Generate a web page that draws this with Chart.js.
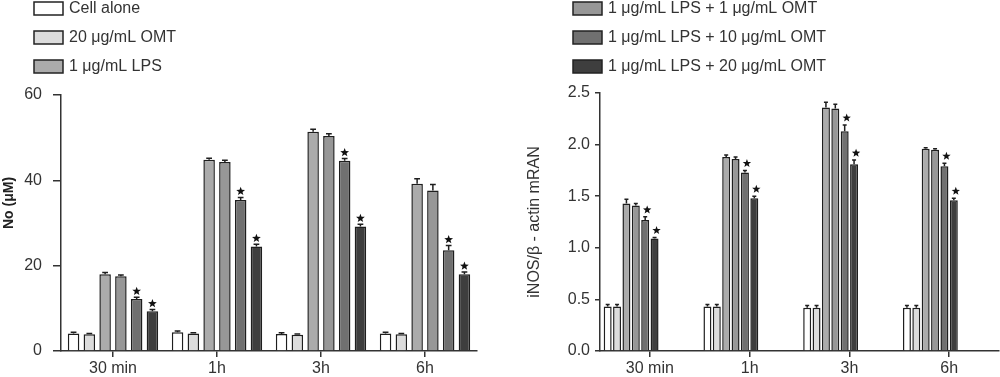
<!DOCTYPE html>
<html lang="en">
  <head>
    <meta charset="utf-8" />
    <title>NO production and iNOS mRNA</title>
    <style>
      * {
        margin: 0;
        padding: 0;
      }
      body {
        width: 1000px;
        height: 377px;
        background: #fff;
        overflow: hidden;
        position: relative;
      }
      .box {
        position: absolute;
        top: 0;
        width: 500px;
        height: 377px;
      }
      #leftBox { left: 0; }
      #rightBox { left: 500px; }
    </style>
  </head>
  <body>
    <div class="box" id="leftBox"><canvas id="noChart"></canvas></div>
    <div class="box" id="rightBox"><canvas id="inosChart"></canvas></div>

    <script src="https://cdn.jsdelivr.net/npm/chart.js"></script>

    <script>
      const timePoints = ["30 min", "1h", "3h", "6h"];
      const groupNames = [
        "Cell alone",
        "20 μg/mL OMT",
        "1 μg/mL LPS",
        "1 μg/mL LPS + 1 μg/mL OMT",
        "1 μg/mL LPS + 10 μg/mL OMT",
        "1 μg/mL LPS + 20 μg/mL OMT",
      ];
      const groupFills = ["#ffffff", "#dcdcdc", "#ababab", "#979797", "#707070", "#3e3e3e"];
      // groups marked with a star at every time point
      const starred = [false, false, false, false, true, true];

      // NO (μM)
      const noCell = [4.1, 4.4, 4.0, 4.1];
      const noOmt = [3.9, 4.1, 3.8, 3.9];
      const noLps = [18.0, 44.8, 51.4, 39.2];
      const noLps1 = [17.5, 44.3, 50.4, 37.6];
      const noLps10 = [12.2, 35.4, 44.6, 23.6];
      const noLps20 = [9.3, 24.5, 29.2, 18.0];
      const noCellErr = [0.3, 0.3, 0.3, 0.3];
      const noOmtErr = [0.2, 0.2, 0.2, 0.2];
      const noLpsErr = [0.4, 0.4, 0.6, 1.2];
      const noLps1Err = [0.3, 0.4, 0.5, 1.4];
      const noLps10Err = [0.4, 0.6, 0.5, 1.1];
      const noLps20Err = [0.4, 0.5, 0.5, 0.5];

      // iNOS / beta-actin mRNA
      const inosCell = [0.43, 0.43, 0.42, 0.42];
      const inosOmt = [0.43, 0.43, 0.42, 0.42];
      const inosLps = [1.43, 1.88, 2.36, 1.96];
      const inosLps1 = [1.41, 1.86, 2.35, 1.95];
      const inosLps10 = [1.27, 1.73, 2.13, 1.79];
      const inosLps20 = [1.09, 1.48, 1.81, 1.46];
      const inosCellErr = [0.02, 0.02, 0.02, 0.02];
      const inosOmtErr = [0.02, 0.02, 0.02, 0.02];
      const inosLpsErr = [0.04, 0.02, 0.05, 0.01];
      const inosLps1Err = [0.02, 0.02, 0.04, 0.01];
      const inosLps10Err = [0.03, 0.02, 0.06, 0.03];
      const inosLps20Err = [0.01, 0.02, 0.04, 0.02];

      Chart.defaults.font.family = "'Liberation Sans', Arial, sans-serif";
      Chart.defaults.color = "#333";

      function drawStar(ctx, cx, cy, r) {
        ctx.beginPath();
        for (let k = 0; k < 10; k++) {
          const rad = k % 2 ? r * 0.42 : r;
          const a = -Math.PI / 2 + (k * Math.PI) / 5;
          ctx.lineTo(cx + rad * Math.cos(a), cy + rad * Math.sin(a));
        }
        ctx.closePath();
        ctx.fillStyle = "#111";
        ctx.fill();
      }

      // error bars (upper half) and significance stars
      const errorStars = {
        id: "errorStars",
        afterDatasetsDraw(chart, args, opts) {
          const { ctx } = chart;
          const yScale = chart.scales.y;
          chart.data.datasets.forEach((ds, i) => {
            if (!ds.err) return;
            chart.getDatasetMeta(i).data.forEach((bar, j) => {
              const top = yScale.getPixelForValue(ds.data[j] + ds.err[j]);
              const cap = bar.width * 0.5;
              ctx.save();
              ctx.strokeStyle = "#1e1e1e";
              ctx.lineWidth = 1.5;
              ctx.beginPath();
              ctx.moveTo(bar.x, bar.y);
              ctx.lineTo(bar.x, top);
              ctx.moveTo(bar.x - cap / 2, top);
              ctx.lineTo(bar.x + cap / 2, top);
              ctx.stroke();
              if (ds.star) drawStar(ctx, bar.x + opts.starDx, top - opts.starGap, opts.starR);
              ctx.restore();
            });
          });
        },
      };

      // one legend entry per row above the plot, plus the y title when it sits off-centre
      const stackedLegend = {
        id: "stackedLegend",
        afterDraw(chart, args, opts) {
          const { ctx } = chart;
          ctx.save();
          ctx.font = "16px 'Liberation Sans', Arial, sans-serif";
          ctx.textBaseline = "middle";
          opts.items.forEach((k, row) => {
            const ds = chart.data.datasets[k];
            const cy = opts.y + row * opts.step;
            ctx.fillStyle = ds.backgroundColor;
            ctx.fillRect(opts.x, cy - 6.5, 29, 13);
            ctx.lineWidth = 1.5;
            ctx.strokeStyle = "#222";
            ctx.strokeRect(opts.x, cy - 6.5, 29, 13);
            ctx.fillStyle = "#333";
            ctx.fillText(ds.label, opts.x + 35, cy);
          });
          if (opts.yTitle) {
            const t = opts.yTitle;
            ctx.translate(t.x, t.y);
            ctx.rotate(-Math.PI / 2);
            ctx.font = t.font;
            ctx.fillStyle = t.color;
            ctx.textAlign = "center";
            ctx.fillText(t.text, 0, 0);
          }
          ctx.restore();
        },
      };

      function makeSets(values, errors) {
        return values.map((v, i) => ({
          label: groupNames[i],
          data: v,
          err: errors[i],
          star: starred[i],
          backgroundColor: groupFills[i],
          borderColor: "#1e1e1e",
          borderWidth: 1.5,
        }));
      }

      function axisX(tickLen) {
        return {
          ticks: { color: "#333", font: { size: 16 }, padding: 2 },
          grid: { offset: false, drawOnChartArea: false, tickLength: tickLen, tickColor: "#333", lineWidth: 1.5 },
          border: { color: "#333", width: 1.5 },
          afterFit(s) {
            s.height = 26;
          },
        };
      }

      const noSets = makeSets(
        [noCell, noOmt, noLps, noLps1, noLps10, noLps20],
        [noCellErr, noOmtErr, noLpsErr, noLps1Err, noLps10Err, noLps20Err]
      );

      new Chart(document.getElementById("noChart"), {
        type: "bar",
        data: { labels: timePoints, datasets: noSets },
        options: {
          responsive: true,
          maintainAspectRatio: false,
          animation: false,
          categoryPercentage: 0.91,
          barPercentage: 0.73,
          layout: { padding: { left: 0, right: 23, top: 95, bottom: 0 } },
          plugins: {
            legend: { display: false },
            tooltip: { enabled: false },
            errorStars: { starDx: 0, starGap: 6, starR: 4.6 },
            stackedLegend: {
              items: [0, 1, 2],
              x: 34,
              y: 8.5,
              step: 29,
              yTitle: { text: "No (μM)", x: 9, y: 203, font: "bold 14px 'Liberation Sans', Arial, sans-serif", color: "#222" },
            },
          },
          scales: {
            x: axisX(6),
            y: {
              min: 0,
              max: 60,
              ticks: { stepSize: 20, color: "#333", font: { size: 16 }, padding: 11 },
              grid: { drawOnChartArea: false, tickLength: 8, tickColor: "#333", lineWidth: 1.5 },
              border: { color: "#333", width: 1.5 },
              afterFit(s) {
                s.width = 61;
              },
            },
          },
        },
        plugins: [errorStars, stackedLegend],
      });

      const inosSets = makeSets(
        [inosCell, inosOmt, inosLps, inosLps1, inosLps10, inosLps20],
        [inosCellErr, inosOmtErr, inosLpsErr, inosLps1Err, inosLps10Err, inosLps20Err]
      );
      // empty slots so the bar groups sit left of the tick marks, as in the figure
      for (let k = 0; k < 4; k++) {
        inosSets.push({ label: "", data: timePoints.map(() => null) });
      }

      new Chart(document.getElementById("inosChart"), {
        type: "bar",
        data: { labels: timePoints, datasets: inosSets },
        options: {
          responsive: true,
          maintainAspectRatio: false,
          animation: false,
          categoryPercentage: 0.94,
          barPercentage: 0.85,
          layout: { padding: { left: 0, right: 1, top: 93, bottom: 0 } },
          plugins: {
            legend: { display: false },
            tooltip: { enabled: false },
            errorStars: { starDx: 2, starGap: 7, starR: 4.4 },
            stackedLegend: { items: [3, 4, 5], x: 73, y: 8.5, step: 29 },
          },
          scales: {
            x: axisX(6),
            y: {
              min: 0,
              max: 2.5,
              ticks: {
                stepSize: 0.5,
                color: "#333",
                font: { size: 16 },
                padding: 5,
                callback: (v) => v.toFixed(1),
              },
              grid: { drawOnChartArea: false, tickLength: 5, tickColor: "#333", lineWidth: 1.5 },
              border: { color: "#333", width: 1.5 },
              title: {
                display: true,
                text: "iNOS/β - actin mRAN",
                color: "#333",
                font: { size: 16 },
                padding: { top: 25, bottom: 0 },
              },
              afterFit(s) {
                s.width = 100;
              },
            },
          },
        },
        plugins: [errorStars, stackedLegend],
      });
    </script>
  </body>
</html>
